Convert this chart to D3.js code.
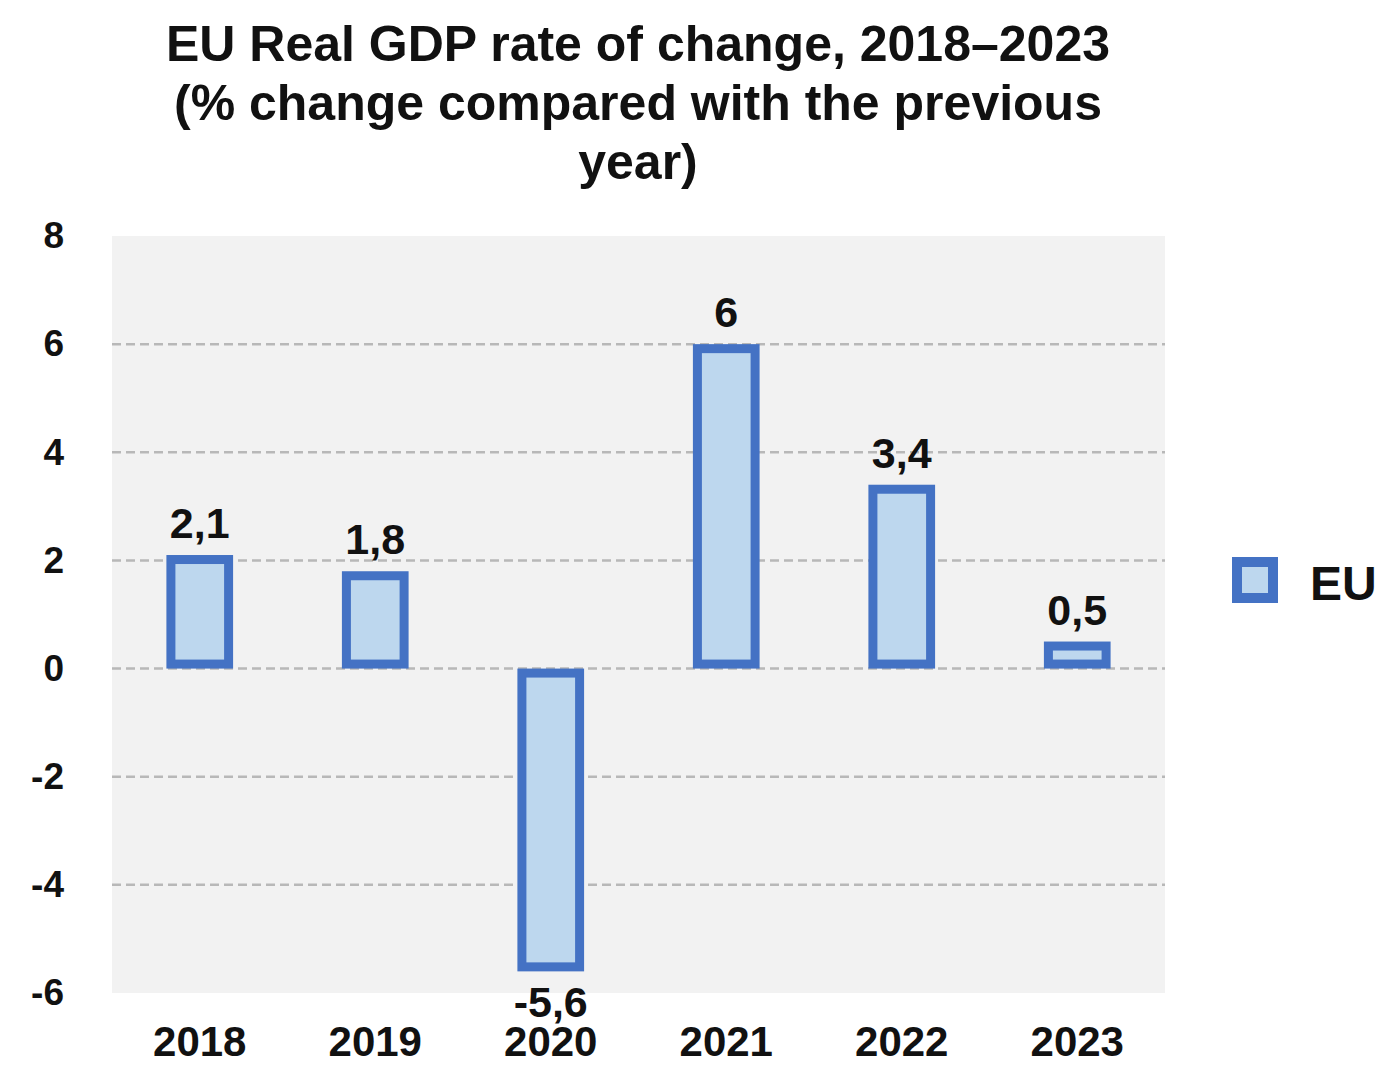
<!DOCTYPE html>
<html>
<head>
<meta charset="utf-8">
<script src="https://cdn.jsdelivr.net/npm/d3@7/dist/d3.min.js"></script>
<style>
  html, body { margin: 0; padding: 0; background: #ffffff; }
  svg { display: block; font-family: "Liberation Sans", Arial, sans-serif; }
</style>
</head>
<body>
<svg id="chart" width="1379" height="1065"></svg>
<script>
// Real GDP growth, EU, % change on previous year
const years = ["2018", "2019", "2020", "2021", "2022", "2023"];
const gdpChange = [2.1, 1.8, -5.6, 6, 3.4, 0.5];
const yTicks = [-6, -4, -2, 0, 2, 4, 6, 8];
const seriesName = "EU";
const titleLines = [
  "EU Real GDP rate of change, 2018\u20132023",
  "(% change compared with the previous",
  "year)"
];

const svg = d3.select("#chart");
const plot = { left: 112, right: 1165, top: 236, bottom: 993 };

const x = d3.scaleBand().domain(years).range([plot.left, plot.right]).paddingInner(0.62).paddingOuter(0.31);
const y = d3.scaleLinear().domain([-6, 8]).range([plot.bottom, plot.top]);

const fmt = v => String(v).replace(".", ",");

// Title
svg.append("g").selectAll("text").data(titleLines).join("text")
  .attr("x", 638).attr("y", (d, i) => 61 + i * 59)
  .attr("text-anchor", "middle")
  .attr("font-size", 50).attr("font-weight", "bold").attr("fill", "#111")
  .text(d => d);

// Plot background
svg.append("rect")
  .attr("x", plot.left).attr("y", plot.top)
  .attr("width", plot.right - plot.left).attr("height", plot.bottom - plot.top)
  .attr("fill", "#f2f2f2");

// Gridlines (inner ticks only)
svg.append("g").selectAll("line").data(yTicks.filter(t => t > -6 && t < 8)).join("line")
  .attr("x1", plot.left).attr("x2", plot.right)
  .attr("y1", d => y(d)).attr("y2", d => y(d))
  .attr("stroke", "#b8b8b8").attr("stroke-width", 2.5)
  .attr("stroke-dasharray", "9,5");

// Y axis labels
const yAxis = d3.axisLeft(y).tickValues(yTicks).tickSize(0).tickPadding(0).tickFormat(d => String(d));
const yg = svg.append("g").attr("transform", "translate(64,0)").call(yAxis);
yg.select(".domain").remove();
yg.selectAll("text").attr("font-size", 37).attr("font-weight", "bold").attr("fill", "#111")
  .attr("font-family", "Liberation Sans, Arial, sans-serif");

// X axis labels
const xAxis = d3.axisBottom(x).tickSize(0).tickPadding(0);
const xg = svg.append("g").attr("transform", "translate(0,1026)").call(xAxis);
xg.select(".domain").remove();
xg.selectAll("text").attr("font-size", 42).attr("font-weight", "bold").attr("fill", "#111")
  .attr("font-family", "Liberation Sans, Arial, sans-serif");

// Bars: outline drawn inside the value extent
const sw = 9;
svg.append("g").selectAll("rect").data(years).join("rect")
  .attr("x", d => x(d) + sw / 2)
  .attr("width", x.bandwidth() - sw)
  .attr("y", (d, i) => Math.min(y(gdpChange[i]), y(0)) + sw / 2)
  .attr("height", (d, i) => Math.abs(y(gdpChange[i]) - y(0)) - sw)
  .attr("fill", "#bdd7ee").attr("stroke", "#4472c4").attr("stroke-width", sw);

// Value labels
svg.append("g").selectAll("text").data(years).join("text")
  .attr("x", d => x(d) + x.bandwidth() / 2)
  .attr("y", (d, i) => gdpChange[i] >= 0 ? y(gdpChange[i]) - 17 : y(gdpChange[i]) + 46)
  .attr("text-anchor", "middle")
  .attr("font-size", 43).attr("font-weight", "bold").attr("fill", "#111")
  .text((d, i) => fmt(gdpChange[i]));

// Legend
const lg = svg.append("g").attr("transform", "translate(1237,562)");
lg.append("rect").attr("x", 0).attr("y", 0).attr("width", 36).attr("height", 36)
  .attr("fill", "#bdd7ee").attr("stroke", "#4472c4").attr("stroke-width", 10);
lg.append("text").attr("x", 73).attr("y", 38)
  .attr("font-size", 48).attr("font-weight", "bold").attr("fill", "#111")
  .text(seriesName);
</script>
</body>
</html>
